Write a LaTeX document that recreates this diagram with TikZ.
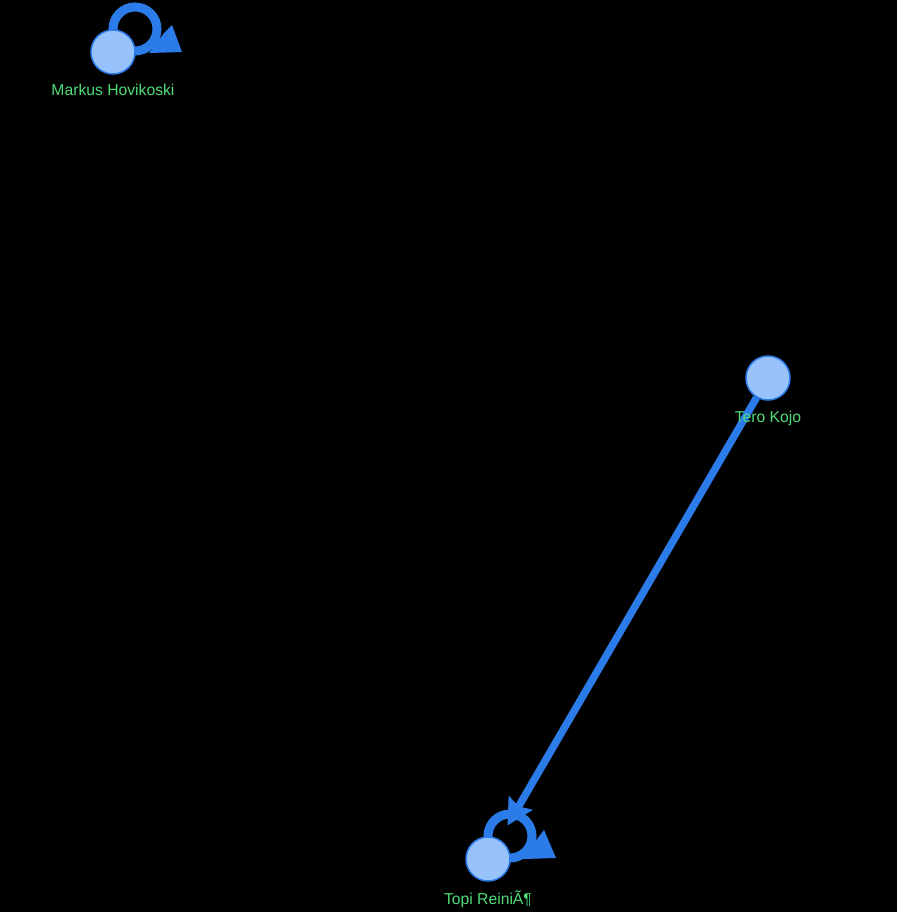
\documentclass[tikz,border=0pt]{standalone}
\usepackage{fontspec}
\setmainfont{Liberation Sans}
\usetikzlibrary{arrows.meta,calc}
\definecolor{edgeblue}{RGB}{43,124,233}
\definecolor{nodefill}{RGB}{151,194,252}
\definecolor{lblgreen}{RGB}{80,220,120}
\tikzset{
  person/.style={circle, fill=nodefill, draw=edgeblue, line width=1.5pt, minimum size=44pt, inner sep=0pt},
  lbl/.style={text=lblgreen, anchor=base, inner sep=0pt, font=\fontsize{15.7}{19}\selectfont},
  link/.style={draw=edgeblue, line width=7.5pt, -{Stealth[length=26pt, width=27pt, inset=4pt]}, shorten >=16pt, edgeblue},
  selfloop/.style={draw=edgeblue, line width=9pt},
  loophead/.style={fill=edgeblue}
}
\begin{document}
\begin{tikzpicture}[x=1pt,y=-1pt]
  \fill[black] (0,0) rectangle (897,912);
  \useasboundingbox (0,0) rectangle (897,912);
  \coordinate (pm) at (113,52);
  \coordinate (pt) at (768,378);
  \coordinate (pr) at (488,859);
  % self loops
  \draw[selfloop] ($(pm)+(22,-23)$) circle (22);
  \fill[loophead] ($(pm)+(69,0)$) -- ($(pm)+(59,-27)$) -- ($(pm)+(51,-19)$) -- ($(pm)+(36,1)$) -- cycle;
  \draw[selfloop] ($(pr)+(22,-23)$) circle (22);
  \fill[loophead] ($(pr)+(68,-1)$) -- ($(pr)+(56,-29)$) -- ($(pr)+(49,-20)$) -- ($(pr)+(35,0)$) -- cycle;
  % nodes
  \node[person] (markus) at (pm) {};
  \node[person] (tero) at (pt) {};
  \node[person] (topi) at (pr) {};
  % edge
  \draw[link] (tero) -- (topi);
  % labels
  \node[lbl] (markuslbl) at (113,96) {Markus Hovikoski};
  \node[lbl] (terolbl) at (768,422) {Tero Kojo};
  \node[lbl] (topilbl) at (488,904) {Topi ReiniÃ¶};
\end{tikzpicture}
\end{document}
